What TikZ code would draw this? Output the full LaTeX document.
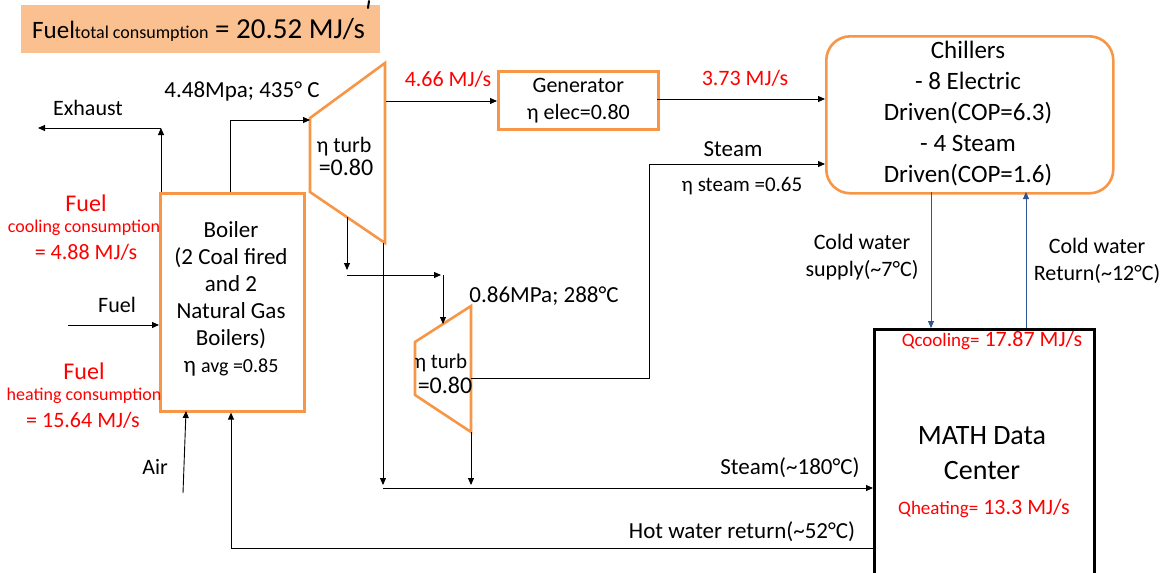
\documentclass[tikz,border=0pt]{standalone}
\usepackage{fontspec}
\setmainfont{Carlito}
\usetikzlibrary{arrows.meta}
\definecolor{orng}{HTML}{F79646}
\definecolor{lorng}{HTML}{FAC090}
\definecolor{bluearr}{HTML}{2F5597}
\newcommand{\fs}[2]{\fontsize{#1}{#2}\selectfont}
\newcommand{\tl}{\char"007E\relax}
\begin{document}
\begin{tikzpicture}[x=1pt,y=-1pt,
  arr/.style={draw=black,line width=0.9pt,-{Triangle[length=7pt,width=6pt]}},
  barr/.style={draw=bluearr,line width=0.9pt,-{Triangle[length=7pt,width=6pt]}},
  ln/.style={draw=black,line width=0.9pt},
  obox/.style={draw=orng,line width=2.6pt,fill=white,inner sep=0pt},
  lbl/.style={inner sep=0pt,align=center,font=\fs{22}{27}},
  rlbl/.style={inner sep=0pt,align=center,text=red,font=\fs{22}{27}}]
\useasboundingbox (0,0) rectangle (1173,573);

% banner
\node[fill=lorng,minimum width=359pt,minimum height=48pt,anchor=north west,inner sep=0pt] (banner) at (21,5) {};
\node[inner sep=0pt,anchor=base west] (bantxt) at (32,38) {\fs{25}{28}Fuel{\fs{18}{20}total consumption}\fs{29}{31} = 20.52 MJ/s};
\draw[line width=2pt,line cap=round] (369,1) -- (368,8);

% boxes
\node[obox,minimum width=144pt,minimum height=218pt,anchor=north west] (boiler) at (159,192) {};
\node[lbl,font=\fs{23}{27}] (boilertxt) at (231,299) {Boiler\\(2 Coal fired\\and 2\\Natural Gas\\Boilers)\\η {\fs{20}{27}avg =0.85}};
\node[obox,minimum width=160pt,minimum height=58pt,anchor=north west] (gen) at (497,70) {};
\node[lbl] (gentxt) at (gen.center) {Generator\\η elec=0.80};
\node[obox,rounded corners=24pt,minimum width=287pt,minimum height=157pt,anchor=north west] (chill) at (825,35) {};
\node[lbl,font=\fs{25}{31}] (chilltxt) at (968,114) {Chillers\\- 8 Electric\\Driven(COP=6.3)\\- 4 Steam\\Driven(COP=1.6)};
\node[draw=black,line width=3pt,minimum width=220pt,minimum height=270pt,anchor=north west,inner sep=0pt] (dc) at (873,328) {};
\node[lbl,font=\fs{28}{35}] (dctxt) at (982,453) {MATH Data\\Center};
\node[rlbl,anchor=base] (qcool) at (992,346) {{\fs{19}{20}Qcooling=} 17.87 MJ/s};
\node[rlbl,anchor=base] (qheat) at (984,514) {{\fs{19}{20}Qheating=} 13.3 MJ/s};

% turbines
\coordinate (t1a) at (310,118); \coordinate (t1b) at (385,63);
\coordinate (t1c) at (385,243); \coordinate (t1d) at (310,192);
\draw[draw=orng,line width=2.6pt] (t1a) -- (t1b) -- (t1c) -- (t1d) -- cycle;
\node[lbl,font=\fs{22}{22}] (t1txt) at (344,147) {η turb};
\node[lbl,font=\fs{24}{24}] (t1txt2) at (346,167) {=0.80};
\coordinate (t2a) at (415,342); \coordinate (t2b) at (471,306);
\coordinate (t2c) at (471,432); \coordinate (t2d) at (415,395);
\draw[draw=orng,line width=2.6pt] (t2a) -- (t2b) -- (t2c) -- (t2d) -- cycle;
\node[lbl,font=\fs{21}{22}] (t2txt) at (441,363) {η turb};
\node[lbl,font=\fs{24}{24}] (t2txt2) at (445,385) {=0.80};

% connectors
\coordinate (ex1) at (161,128); \coordinate (ex2) at (38,128);
\draw[arr] (boiler.north west -| ex1) -- (ex1);
\draw[ln,-{Triangle[length=7pt,width=6pt]}] (ex1) -- (ex2);
\coordinate (t1in) at (310,120);
\draw[arr] (boiler.north west -| 230,0) |- (t1in);
\coordinate (t1out) at (386,101);
\draw[arr] (t1out) -- (gen.west |- t1out);
\coordinate (genout) at (657,99);
\draw[arr] (genout) -- (chill.west |- genout);
\coordinate (b1) at (347,217); \coordinate (b2) at (347,270);
\coordinate (b3) at (347,275); \coordinate (b4) at (441,275);
\coordinate (b5) at (443,275); \coordinate (b6) at (443,324);
\draw[arr] (b1) -- (b2);
\draw[arr] (b3) -- (b4);
\draw[arr] (b5) -- (b6);
\coordinate (l1) at (383,485); \coordinate (l2) at (471,485);
\coordinate (l3) at (383,488);
\draw[arr] (t1c -| l1) -- (l1);
\draw[arr] (t2c) -- (l2);
\draw[arr] (l3) -- (dc.west |- l3);
\coordinate (s1) at (471,378); \coordinate (s2) at (649,378); \coordinate (s3) at (649,164);
\draw[arr] (s1) -- (s2) -- (s3) -- (chill.west |- s3);
\coordinate (cw1) at (931,192); \coordinate (cw2) at (1026,192);
\draw[barr] (cw1) -- (cw1 |- dc.north);
\draw[barr] (cw2 |- dc.north) -- (cw2);
\coordinate (hw1) at (873,548); \coordinate (hw2) at (231,548);
\draw[arr] (hw1) -- (hw2) -- (boiler.south -| hw2);
\coordinate (air1) at (183,493); \coordinate (air2) at (186,411);
\draw[arr] (air1) -- (air2);
\coordinate (f1) at (68,325);
\draw[arr] (f1) -- (boiler.west |- f1);

% labels
\node[lbl] (exh) at (88,108) {Exhaust};
\node[lbl,font=\fs{23}{27}] (hp) at (242,91) {4.48Mpa; 435° C};
\node[rlbl] (p1) at (448,79) {4.66 MJ/s};
\node[rlbl] (p2) at (745,78) {3.73 MJ/s};
\node[lbl,font=\fs{23}{27}] (lp) at (544,296) {0.86MPa; 288°C};
\node[lbl,font=\fs{23}{27}] (stm) at (733,149) {Steam};
\node[lbl,font=\fs{21}{27}] (etas) at (742,186) {η steam =0.65};
\node[lbl,font=\fs{22}{27}] (cws) at (862,257) {Cold water\\supply(\tl 7°C)};
\node[lbl,font=\fs{22}{27}] (cwr) at (1097,261) {Cold water\\Return(\tl 12°C)};
\node[lbl,font=\fs{23}{27}] (st180) at (790,468) {Steam(\tl 180°C)};
\node[lbl,font=\fs{23}{27}] (hwr) at (742,532) {Hot water return(\tl 52°C)};
\node[lbl] (fuel) at (117,305) {Fuel};
\node[lbl] (air) at (155,467) {Air};
\node[rlbl,font=\fs{24}{27}] (fc1) at (86,203) {Fuel};
\node[rlbl,font=\fs{18}{20}] (fc2) at (84,228) {cooling consumption};
\node[rlbl] (fc3) at (86,252) {= 4.88 MJ/s};
\node[rlbl,font=\fs{24}{27}] (fh1) at (84,371) {Fuel};
\node[rlbl,font=\fs{18}{20}] (fh2) at (84,396) {heating consumption};
\node[rlbl] (fh3) at (83,420) {= 15.64 MJ/s};
\end{tikzpicture}
\end{document}
